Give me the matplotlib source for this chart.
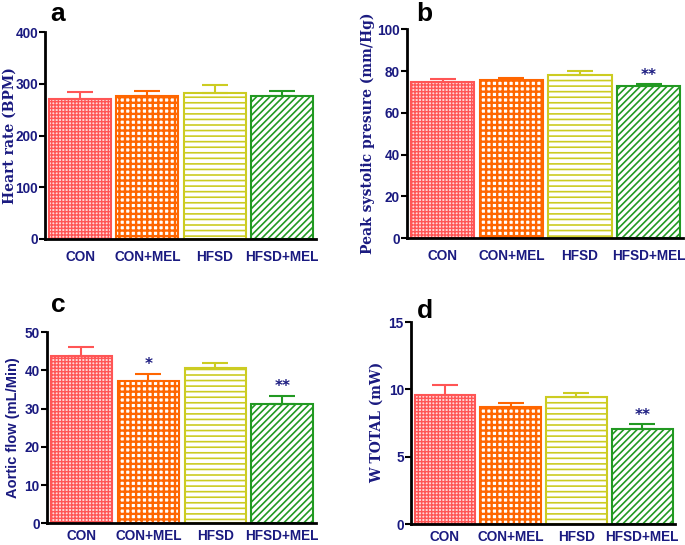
import numpy as np
import matplotlib
matplotlib.use('Agg')
import matplotlib.pyplot as plt

# Grupos y valores
grupos = ['CON', 'CON+MEL', 'HFSD', 'HFSD+MEL']

heart_rate = [271, 277, 283, 277]
heart_rate_err = [14, 10, 15, 9]

peak_pressure = [74.8, 75.6, 78.0, 72.8]
peak_pressure_err = [1.5, 1.1, 1.9, 1.0]

aortic_flow = [43.7, 37.3, 40.7, 31.2]
aortic_flow_err = [2.4, 1.9, 1.3, 2.2]

w_total = [9.62, 8.69, 9.47, 7.05]
w_total_err = [0.68, 0.34, 0.26, 0.38]

# Marcas de significancia por panel
sig_a = ['', '', '', '']
sig_b = ['', '', '', '**']
sig_c = ['', '*', '', '**']
sig_d = ['', '', '', '**']

colores = ['#ff5555', '#ff6600', '#cccc22', '#229922']
rellenos = ['#ffd8d8', 'white', 'white', 'white']
tramas = ['+++++', '+++', '---', '/////']
grosor_trama = [1.0, 1.7, 1.2, 1.2]

navy = '#1a1a80'

fig = plt.figure(figsize=(6.85, 5.45), dpi=100)


def panel(rect, valores, errores, sig, ymax, step, ylabel, label_font, label_xy,
          letra, letra_xy, xpad):
    ax = fig.add_axes(rect)
    x = np.arange(len(grupos))
    for i in x:
        b = ax.bar(i, valores[i], width=0.92, color=rellenos[i], edgecolor=colores[i],
                   hatch=tramas[i], linewidth=1.5, zorder=2)
        for p in b.patches:
            if hasattr(p, 'set_hatch_linewidth'):
                p.set_hatch_linewidth(grosor_trama[i])
        ax.errorbar(i, valores[i], yerr=[[0], [errores[i]]], ecolor=colores[i],
                    elinewidth=1.5, capsize=9.5, capthick=1.5, fmt='none', zorder=3)
        if sig[i]:
            ax.annotate(sig[i], (i, valores[i] + errores[i]), xytext=(0, 1),
                        textcoords='offset points', ha='center', va='bottom',
                        color=navy, fontsize=11, fontweight='bold')
    ax.set_xlim(-0.52, 3.5)
    ax.set_ylim(0, ymax)
    ax.set_yticks(np.arange(0, ymax + step / 2, step))
    ax.set_xticks(x)
    ax.set_xticklabels(grupos)
    for s in ['top', 'right']:
        ax.spines[s].set_visible(False)
    for s in ['left', 'bottom']:
        ax.spines[s].set_linewidth(2)
    ax.tick_params(axis='y', length=4, width=1.5, pad=1, labelsize=9.8, labelcolor=navy)
    ax.tick_params(axis='x', length=0, pad=xpad, labelsize=9.8, labelcolor=navy)
    for t in ax.get_xticklabels() + ax.get_yticklabels():
        t.set_fontfamily('Liberation Sans')
        t.set_fontweight('bold')
    ax.set_ylabel(ylabel, color=navy, **label_font)
    ax.yaxis.set_label_coords(*label_xy)
    fig.text(letra_xy[0], letra_xy[1], letra, fontsize=19, fontweight='bold',
             family='Liberation Sans', color='black', va='center', ha='left')
    return ax


serif = dict(family='DejaVu Serif', fontweight='bold', fontsize=10)
sans = dict(family='Liberation Sans', fontweight='bold', fontsize=10.5)

panel([0.0657, 0.5615, 0.3953, 0.3795], heart_rate, heart_rate_err, sig_a,
      400, 100, 'Heart rate (BPM)', serif, (-0.105, 0.5), 'a', (0.074, 0.975), 8)
panel([0.594, 0.5633, 0.403, 0.383], peak_pressure, peak_pressure_err, sig_b,
      100, 20, 'Peak systolic presure (mm/Hg)', serif, (-0.115, 0.5), 'b', (0.608, 0.975), 8)
panel([0.068, 0.0398, 0.393, 0.3505], aortic_flow, aortic_flow_err, sig_c,
      50, 10, 'Aortic flow (mL/Min)', sans, (-0.1, 0.5), 'c', (0.074, 0.44), 4)
panel([0.5996, 0.038, 0.386, 0.371], w_total, w_total_err, sig_d,
      15, 5, 'W TOTAL (mW)', serif, (-0.1, 0.506), 'd', (0.608, 0.43), 4)

fig.savefig('out.png', dpi=100)
